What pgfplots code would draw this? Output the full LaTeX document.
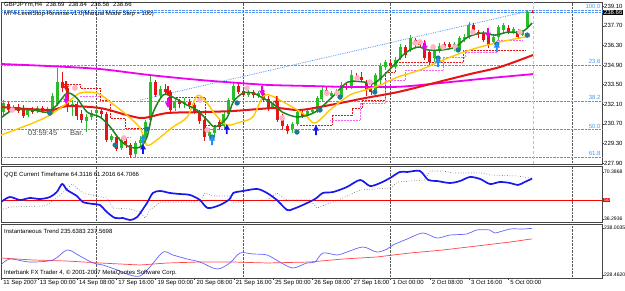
\documentclass[border=0pt]{standalone}
\usepackage{fontspec}
\setmainfont{Liberation Sans}
\usepackage{pgfplots}
\usepackage{pgfplotstable}
\pgfplotsset{compat=1.18}
\definecolor{bullc}{RGB}{40,190,40}
\definecolor{bearc}{RGB}{230,20,20}
\definecolor{fibc}{RGB}{80,150,245}
\definecolor{magc}{RGB}{240,0,240}
\definecolor{yelc}{RGB}{255,200,0}
\definecolor{grnc}{RGB}{30,130,30}
\definecolor{tealc}{RGB}{30,120,150}
\definecolor{pinkc}{RGB}{255,180,195}
\definecolor{arrowblue}{RGB}{20,20,240}
\definecolor{lblue}{RGB}{30,144,255}
\definecolor{qqeblue}{RGB}{25,25,235}
\definecolor{instblue}{RGB}{100,100,255}
\definecolor{instred}{RGB}{255,70,70}
\definecolor{framec}{RGB}{70,70,70}
\newcommand\fs{\fontsize{6}{7}\selectfont}
\newcommand\fss{\fontsize{5.1}{6}\selectfont}
\newcommand\fsb{\fontsize{7.5}{8}\selectfont}

\pgfdeclareplotmark{darrow}{%
  \pgfpathmoveto{\pgfqpoint{-0.9pt}{5pt}}%
  \pgfpathlineto{\pgfqpoint{0.9pt}{5pt}}%
  \pgfpathlineto{\pgfqpoint{0.9pt}{0.5pt}}%
  \pgfpathlineto{\pgfqpoint{3pt}{0.5pt}}%
  \pgfpathlineto{\pgfqpoint{0pt}{-5pt}}%
  \pgfpathlineto{\pgfqpoint{-3pt}{0.5pt}}%
  \pgfpathlineto{\pgfqpoint{-0.9pt}{0.5pt}}%
  \pgfpathclose\pgfusepathqfill}
\pgfdeclareplotmark{uarrow}{%
  \pgfpathmoveto{\pgfqpoint{-0.9pt}{-5pt}}%
  \pgfpathlineto{\pgfqpoint{0.9pt}{-5pt}}%
  \pgfpathlineto{\pgfqpoint{0.9pt}{-0.5pt}}%
  \pgfpathlineto{\pgfqpoint{3pt}{-0.5pt}}%
  \pgfpathlineto{\pgfqpoint{0pt}{5pt}}%
  \pgfpathlineto{\pgfqpoint{-3pt}{-0.5pt}}%
  \pgfpathlineto{\pgfqpoint{-0.9pt}{-0.5pt}}%
  \pgfpathclose\pgfusepathqfill}

\pgfplotstableread{
i o h l c
1 231.54 232.40 231.33 232.19
3 231.69 232.04 231.54 231.90
6 231.33 231.83 231.19 231.69
8 231.62 231.97 231.47 231.83
10 231.62 231.90 231.40 231.76
11 231.54 232.90 231.40 232.69
12 232.11 234.68 231.97 233.68
15 231.97 232.40 231.26 232.11
18 230.90 231.40 230.12 231.19
19 231.19 231.69 230.97 231.47
20 231.47 231.90 231.26 231.69
23 229.55 229.98 229.40 229.83
25 228.98 229.69 228.84 229.55
28 228.55 229.48 228.34 229.33
29 229.33 229.83 229.12 229.55
30 229.69 230.97 229.55 230.83
31 230.97 234.18 230.83 233.68
33 232.76 233.40 232.54 233.18
36 231.83 232.54 231.62 232.33
38 232.11 232.54 231.83 232.26
43 229.83 230.40 229.62 230.12
44 230.05 230.55 229.76 230.40
46 230.55 231.54 230.40 231.40
47 231.40 232.54 231.26 232.40
48 232.40 233.68 232.26 233.40
51 232.76 233.18 232.61 232.97
53 232.76 233.04 232.54 232.90
56 231.90 232.33 231.76 232.11
60 230.33 230.83 230.05 230.69
61 230.69 231.69 230.55 231.54
63 231.26 231.76 231.12 231.62
64 231.62 231.90 231.47 231.69
65 231.62 232.69 231.47 232.54
66 232.47 233.33 232.33 233.11
68 232.69 233.04 232.54 232.90
69 232.83 233.18 232.69 232.97
70 232.61 233.68 232.47 233.47
72 233.33 234.54 233.18 234.18
77 232.97 234.33 232.83 234.18
78 233.83 235.04 233.54 234.82
79 234.75 235.25 234.54 235.11
81 234.75 235.47 234.61 235.25
82 235.39 236.39 235.25 236.18
84 235.97 237.03 235.82 236.82
89 235.39 236.18 235.11 235.97
90 235.97 236.46 235.75 236.25
93 236.04 236.54 235.89 236.39
94 235.97 236.96 235.82 236.82
95 236.75 237.11 236.54 236.89
96 236.89 237.96 236.75 237.75
101 236.54 237.03 236.39 236.89
102 236.89 237.75 236.68 237.60
103 237.39 237.89 237.18 237.75
105 237.25 237.60 237.11 237.46
107 237.03 237.39 236.96 237.25
108 237.60 238.82 237.46 238.67
}\bull

\pgfplotstableread{
i o h l c
2 232.11 232.26 231.54 231.69
4 231.90 232.11 231.47 231.62
5 231.83 232.04 231.12 231.26
7 231.69 231.90 231.40 231.54
9 231.83 231.97 231.47 231.62
13 233.68 234.40 232.97 233.26
14 233.26 233.40 231.54 231.97
16 232.11 232.26 230.97 231.26
17 231.40 231.69 230.76 230.97
21 231.62 231.83 231.12 231.40
22 231.40 231.54 229.40 229.55
24 229.76 229.90 228.76 228.91
26 229.48 229.69 228.98 229.19
27 229.19 229.33 228.27 228.48
32 233.68 233.83 232.61 232.76
34 233.18 233.54 232.76 232.97
35 232.97 233.11 231.47 231.69
37 232.33 232.47 231.83 232.11
39 232.26 232.47 231.76 232.04
40 232.04 232.19 231.40 231.54
41 231.54 231.69 230.69 230.90
42 230.97 231.12 229.48 229.76
45 230.83 231.12 230.26 230.48
49 233.40 233.54 232.83 232.97
50 233.04 233.18 232.61 232.76
52 232.97 233.11 232.54 232.76
54 232.90 233.11 232.26 232.40
55 232.47 232.69 231.62 231.83
57 232.19 232.33 230.83 230.97
58 231.12 231.40 230.26 230.55
59 230.55 230.69 229.98 230.19
62 231.47 231.62 231.12 231.26
67 233.11 233.33 232.69 232.83
71 233.40 233.54 233.11 233.26
73 234.11 234.33 233.83 234.04
74 234.04 234.40 233.68 233.83
75 233.68 233.83 232.69 233.11
76 233.26 233.54 232.76 232.97
80 235.04 235.25 234.68 234.82
83 236.18 236.32 235.39 235.61
85 236.68 236.82 236.18 236.32
86 236.46 236.61 236.11 236.32
87 236.46 236.68 235.25 235.39
88 235.82 235.97 234.82 235.11
91 236.39 236.54 235.97 236.11
92 236.39 236.54 236.04 236.18
97 237.75 237.89 237.03 237.18
98 237.25 237.39 236.82 237.11
99 237.11 237.32 236.54 236.68
100 237.18 237.32 236.11 236.32
104 237.53 237.75 237.11 237.25
106 237.32 237.46 236.75 236.89
109 238.69 238.84 238.58 238.66
}\bear

\pgfplotsset{
  mtpanel/.style={
    anchor=north west, scale only axis, width=601pt,
    xmin=0.51, xmax=123.16, clip mode=individual,
    axis line style={draw=framec, line width=0.9pt},
    ytick pos=right, yticklabel pos=right, tick align=outside,
    major tick length=1.5pt, tick style={draw=framec, line width=0.4pt},
    yticklabel style={font=\fs, inner sep=0.5pt},
    extra x ticks={19.9,49.9,79.9,117},
    extra x tick labels={},
    extra x tick style={grid=major, major grid style={densely dotted, black!65, line width=0.6pt}, major tick length=0pt},
  },
  wick/.style={draw=none, mark=none, forget plot, error bars/.cd, y dir=both, y explicit, error mark=none,
    error bar style={draw=#1, solid, line width=0.7pt}},
  body/.style={draw=none, mark=none, forget plot, error bars/.cd, y dir=both, y explicit, error mark=none,
    error bar style={draw=#1, solid, line width=3pt}},
}

\begin{document}
\begin{tikzpicture}
\useasboundingbox (0,0) rectangle (625pt,-290pt);
\fill[white] (0,0) rectangle (625pt,-290pt);

% ---------------- main price panel ----------------
\begin{axis}[mtpanel, at={(1pt,-2pt)}, height=162pt,
  ymin=227.84, ymax=239.39, xtick=\empty,
  ytick={227.90,229.30,230.70,232.10,233.50,234.90,236.30,237.70,239.10},
  yticklabels={227.90,229.30,230.70,232.10,233.50,234.90,236.30,237.70,239.10},
  extra y ticks={238.82,238.67,234.90,232.33,230.33,228.34},
  extra y tick labels={},
  extra y tick style={grid=major, major grid style={densely dotted, fibc, line width=0.8pt}, major tick length=0pt},
]
% trend line
\addplot[fibc, densely dotted, line width=0.8pt] coordinates {(28.9,232.40) (109.1,238.82)};
% level stop reverse step lines
\addplot[bearc, densely dotted, line width=0.5pt, const plot] coordinates {(13.0,233.54) (16.6,233.26) (20.7,232.40) (22.8,231.12) (25.8,230.40) (29.9,230.40)};
\addplot[bearc, densely dotted, line width=0.5pt, const plot] coordinates {(34.6,232.61) (41.1,232.61) (42.1,230.62) (45.6,230.62)};
\addplot[bearc, densely dotted, line width=0.5pt, const plot] coordinates {(61.5,230.62) (68.1,231.33) (72.1,231.83) (74.2,232.40) (78.9,234.40) (80.9,235.11) (94.8,235.97) (107.6,235.97)};
\addplot[magc!60, densely dotted, line width=0.5pt, const plot] coordinates {(16.6,232.69) (20.7,232.69)};
\addplot[magc!60, densely dotted, line width=0.5pt, const plot] coordinates {(22.8,229.76) (26.8,229.76)};
\addplot[magc!60, densely dotted, line width=0.5pt, const plot] coordinates {(67.7,230.97) (73.8,232.19) (78.9,233.83) (83.0,234.54) (90.7,235.47) (95.2,235.82) (101.7,236.68) (107.0,236.68)};
% yellow current bar line
\draw[yelc, densely dashed, line width=0.6pt] (axis cs:109.1,227.84) -- (axis cs:109.1,239.39);
% candles
\addplot[wick=bullc] table[x=i, y expr=(\thisrow{h}+\thisrow{l})/2, y error expr=(\thisrow{h}-\thisrow{l})/2] {\bull};
\addplot[wick=bearc] table[x=i, y expr=(\thisrow{h}+\thisrow{l})/2, y error expr=(\thisrow{h}-\thisrow{l})/2] {\bear};
\addplot[body=bullc] table[x=i, y expr=(\thisrow{o}+\thisrow{c})/2, y error expr=abs(\thisrow{c}-\thisrow{o})/2] {\bull};
\addplot[body=bearc] table[x=i, y expr=(\thisrow{o}+\thisrow{c})/2, y error expr=abs(\thisrow{c}-\thisrow{o})/2] {\bear};
% moving averages
\addplot[magc, line width=1.8pt, smooth] coordinates {(0.51,234.97) (10.5,234.82) (20.7,234.61) (30.9,234.18) (41.1,233.83) (49.3,233.61) (55.4,233.47) (63.6,233.40) (71.7,233.33) (79.9,233.33) (84.0,233.40) (92.1,233.68) (100.3,233.97) (109.1,234.25)};
\addplot[bearc, line width=2pt, smooth] coordinates {(0.51,231.90) (10.5,231.69) (14.0,231.97) (20.7,231.83) (26.2,231.33) (29.5,231.12) (34.4,231.47) (41.1,231.54) (47.9,231.62) (56.4,231.83) (61.5,231.69) (67.6,232.04) (74.8,232.54) (81.5,232.97) (88.1,233.54) (96.2,234.25) (102.3,234.75) (109.1,235.61)};
\addplot[yelc, line width=1.4pt, smooth] coordinates {(0.51,229.90) (7.0,230.76) (10.5,231.33) (14.0,232.19) (16.6,232.90) (20.1,232.90) (22.8,232.26) (26.2,231.33) (28.9,230.40) (30.3,229.19) (32.3,229.55) (35.6,230.48) (38.5,231.19) (40.5,232.69) (42.1,232.40) (44.2,231.40) (46.6,230.62) (49.3,230.83) (51.9,231.19) (54.4,232.76) (58.5,232.19) (62.6,231.33) (64.6,230.76) (68.1,231.83) (71.7,232.76) (74.8,233.11) (77.9,233.47) (81.5,234.04) (86.0,234.54) (90.7,235.25) (96.2,235.97) (102.3,236.54) (108.5,236.96)};
\addplot[grnc, line width=1.5pt, smooth] coordinates {(0.51,231.12) (3.0,231.69) (7.0,231.69) (9.9,231.54) (11.9,232.04) (14.0,232.90) (16.0,232.54) (18.1,231.54) (20.7,231.19) (22.8,230.48) (24.8,229.55) (26.8,229.05) (28.9,229.05) (30.3,229.76) (31.5,231.47) (33.6,232.76) (35.6,232.61) (38.5,232.04) (40.5,231.69) (42.6,230.97) (44.2,230.48) (46.6,231.12) (47.9,232.26) (49.9,232.90) (51.9,232.90) (54.0,232.54) (56.4,232.04) (57.9,231.54) (61.1,231.19) (64.6,231.54) (68.1,232.61) (71.3,233.68) (74.8,233.68) (76.8,233.61) (80.3,234.75) (83.0,235.75) (85.6,236.18) (87.7,235.97) (90.5,235.97) (93.2,236.18) (95.8,236.89) (98.7,237.18) (101.3,237.03) (104.0,237.25) (106.8,237.25) (108.9,237.89)};
% markers
\addplot[only marks, mark=*, mark size=2.6pt, color=pinkc] coordinates {(2.8,231.69) (15.6,233.26) (25.6,229.69) (41.1,232.40) (42.6,230.26) (50.7,233.26) (57.9,231.12) (67.0,232.90) (69.1,232.90) (73.2,233.97) (75.8,233.68) (85,236.46) (86,236.54) (88.7,236.18) (90.7,236.18) (93.2,236.18) (96.8,237.25) (106.4,237.25)};
\addplot[only marks, mark=*, mark size=2.4pt, color=tealc] coordinates {(10.5,231.47) (23.8,229.19) (30.3,230.33) (43.6,229.76) (48.7,232.19) (60.9,230.12) (65.6,231.69) (69.7,232.61) (76.8,232.97) (89.7,235.39) (93.8,235.97) (101.7,236.39) (107.9,237.03)};
\addplot[only marks, mark=darrow, color=bearc] coordinates {(13.8,233.40) (34.6,233.04) (56.8,232.33)};
\addplot[only marks, mark=darrow, color=magc] coordinates {(13.8,232.47) (34.6,232.19) (53.8,233.04) (87.0,236.25) (99.9,237.18)};
\addplot[only marks, mark=uarrow, color=arrowblue] coordinates {(29.5,228.91) (46.6,230.33) (64.8,230.26)};
\addplot[only marks, mark=uarrow, color=lblue] coordinates {(29.5,229.62) (43.6,229.55) (89.7,235.11) (101.7,236.18)};
% texts
\node[anchor=north west, font=\fs, inner sep=0pt] at (rel axis cs:0,1) [xshift=3pt, yshift=-0.5pt] {GBPJPYm,H4\hspace{4pt}238.69\hspace{4pt}238.84\hspace{4pt}238.58\hspace{4pt}238.66};
\node[anchor=north west, font=\fs, inner sep=0pt] at (rel axis cs:0,1) [xshift=3pt, yshift=-9pt] {MT4-LevelStop-Reverse-v1.0(Manual Mode Step = 100)};
\node[anchor=west, font=\fsb, text=black!70, inner sep=0pt] at (axis cs:6.0,230.05) {03:59:45};
\node[anchor=west, font=\fsb, text=black!70, inner sep=0pt] at (axis cs:14.6,230.05) {Bar.};
\node[anchor=south east, font=\fs, text=fibc, inner sep=0.5pt] at (axis cs:123.0,238.85) {100.0};
\node[anchor=south east, font=\fs, text=fibc, inner sep=0.5pt] at (axis cs:123.0,234.92) {23.6};
\node[anchor=south east, font=\fs, text=fibc, inner sep=0.5pt] at (axis cs:123.0,232.35) {38.2};
\node[anchor=south east, font=\fs, text=fibc, inner sep=0.5pt] at (axis cs:123.0,230.35) {50.0};
\node[anchor=south east, font=\fs, text=fibc, inner sep=0.5pt] at (axis cs:123.0,228.36) {61.8};
\node[anchor=west, fill=black, text=white, font=\fs, inner sep=0.6pt] at (axis cs:123.16,238.66) [xshift=1.2pt] {238.66};
\end{axis}

% ---------------- QQE panel ----------------
\begin{axis}[mtpanel, at={(1pt,-166pt)}, height=56pt,
  ymin=34.06, ymax=74.63, xtick=\empty,
  ytick={36.2936,70.3868}, yticklabels={36.2936,70.3868},
  yticklabel style={font=\fss, inner sep=0.3pt},
]
\addplot[red, line width=0.6pt] coordinates {(0.51,50) (123.16,50)};
\addplot[black!65, dotted, line width=0.6pt] coordinates {(0.5,42.76) (2.3,44.93) (9.1,45.65) (10.5,47.83) (12.6,53.62) (15.0,61.59) (17.2,55.07) (20.1,52.90) (22.1,51.45) (23.4,44.20) (26.8,43.48) (28.9,41.31) (29.9,36.96) (30.9,42.76) (33.0,48.55) (35.6,48.55) (41.1,48.55) (42.1,55.07) (43.8,52.90) (47.2,52.90) (47.9,47.83) (49.9,49.28) (54.8,50.00) (56.8,55.07) (58.9,50.00) (63.6,50.00) (65.0,44.20) (67.7,47.83) (70.3,51.45) (73.8,57.25) (79.9,58.69) (81.5,63.04) (84.0,63.77) (87.0,64.49) (88.1,71.01) (90.7,71.01) (92.8,69.56) (98.9,69.56) (100.3,68.11) (105.8,67.39) (108.9,65.8)};
\addplot[qqeblue, line width=1.7pt, smooth] coordinates {(0.5,48.55) (2.3,52.17) (4.4,50.00) (6.4,51.45) (8.5,50.72) (10.5,52.17) (11.9,55.80) (13.0,61.59) (14.0,57.25) (16.0,52.90) (17.2,48.55) (19.3,47.10) (20.7,46.38) (22.1,41.31) (23.8,36.96) (25.4,36.96) (26.8,35.51) (28.3,37.68) (30.3,47.83) (31.5,55.07) (33.0,56.52) (35.0,55.07) (37.0,54.35) (39.1,53.62) (41.1,50.00) (42.7,44.20) (45.2,46.38) (47.2,50.72) (47.9,55.07) (49.9,56.52) (52.8,57.97) (54.8,55.07) (56.8,50.00) (58.9,42.76) (60.1,43.48) (62.1,46.38) (64.6,50.72) (66.2,55.07) (68.3,55.80) (71.1,59.42) (73.8,64.49) (75.8,60.14) (77.9,62.32) (79.9,65.94) (81.9,70.29) (83.4,70.29) (86.0,71.01) (87.7,64.49) (89.5,63.77) (92.1,62.32) (94.2,63.77) (96.2,66.66) (98.3,65.21) (100.3,61.59) (102.3,63.04) (104.4,62.32) (106.0,60.87) (107.4,63.04) (108.9,65.5)};
\node[anchor=north west, font=\fs, inner sep=0pt] at (rel axis cs:0,1) [xshift=3pt, yshift=-5.5pt] {QQE Current Timeframe 64.3116 61.2016 64.7066};
\node[anchor=west, fill=red, text=white, font=\fss, inner sep=0.6pt] at (axis cs:123.16,50) [xshift=1.2pt] {50};
\end{axis}

% ---------------- Instantaneous trend panel ----------------
\begin{axis}[mtpanel, at={(1pt,-224pt)}, height=54pt,
  ymin=227.85, ymax=238.82,
  ytick={228.4620,238.0035}, yticklabels={228.4620,238.0035},
  yticklabel style={font=\fss, inner sep=0.3pt},
  xtick pos=bottom,
  xtick={0.55,8,16,24,32,40,48,56,64,72,80,88,96,104},
  xticklabels={11 Sep 2007,13 Sep 00:00,14 Sep 08:00,17 Sep 16:00,19 Sep 00:00,20 Sep 08:00,21 Sep 16:00,25 Sep 00:00,26 Sep 08:00,27 Sep 16:00,1 Oct 00:00,2 Oct 08:00,3 Oct 16:00,5 Oct 00:00},
  xticklabel style={font=\fs, anchor=north west, xshift=1pt, inner sep=1pt},
]
\addplot[instred, line width=0.7pt] coordinates {(0.5,231.91) (7.0,231.51) (14.0,231.30) (20.7,230.90) (28.9,230.49) (34.4,230.90) (41.1,231.10) (47.9,231.10) (54.8,230.90) (63.6,231.10) (70.3,231.71) (77.2,232.12) (84.0,232.93) (90.7,233.54) (97.6,234.35) (104.4,235.16) (108.9,235.80)};
\addplot[instblue, line width=0.7pt, smooth] coordinates {(0.5,230.49) (2.3,231.71) (6.4,231.10) (11.1,231.51) (14.0,233.54) (16.6,232.32) (19.3,230.90) (21.3,230.49) (24.2,229.48) (26.8,228.46) (28.9,228.26) (30.9,230.09) (33.6,233.13) (35.6,232.52) (38.5,231.71) (41.1,231.10) (44.6,229.68) (47.2,230.90) (49.3,232.93) (51.9,232.73) (54.8,232.52) (57.4,231.10) (60.1,229.88) (62.9,230.90) (64.6,231.10) (66.2,232.93) (69.1,232.52) (71.1,233.13) (74.4,234.15) (77.2,233.13) (79.3,233.74) (80.5,234.55) (83.4,235.77) (86.6,236.99) (89.5,235.97) (92.1,236.58) (95.6,236.79) (97.6,237.60) (100.3,237.60) (101.3,236.99) (104.4,237.80) (107.0,237.80) (108.9,237.95)};
\node[anchor=north west, font=\fs, inner sep=0pt] at (rel axis cs:0,1) [xshift=3pt, yshift=-4.5pt] {Instantaneous Trend 235.6383 237.5698};
\node[anchor=south west, font=\fs, inner sep=0pt] at (rel axis cs:0,0) [xshift=3pt, yshift=2.5pt] {Interbank FX Trader 4, © 2001-2007 MetaQuotes Software Corp.};
\end{axis}
\end{tikzpicture}
\end{document}
